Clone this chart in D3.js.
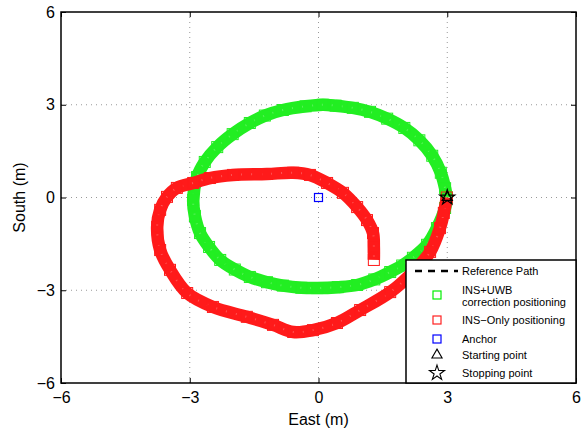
<!DOCTYPE html>
<html><head><meta charset="utf-8">
<script src="https://cdn.jsdelivr.net/npm/d3@7"></script>
<style>body{margin:0;background:#fff}svg{display:block}text{font-family:"Liberation Sans",Arial,sans-serif}</style>
</head><body><svg id="c" width="583" height="433"></svg>
<script>
const xTicks = [-6, -3, 0, 3, 6];
const yTicks = [-6, -3, 0, 3, 6];
const refX = [3, 2.6, 1.5, 0, -1.45, -2.45, -2.9, -2.6, -1.5, 0, 1.5, 2.6];
const refY = [0, 1.5, 2.6, 3, 2.5, 1.5, 0, -1.5, -2.6, -2.95, -2.6, -1.5];
const uwbX = [2.99, 2.95, 2.85, 2.65, 2.35, 2.0, 1.6, 1.2, 0.8, 0.4, 0.1, -0.3, -0.83, -1.25, -1.6, -2.0, -2.36, -2.65, -2.83, -2.92, -2.88, -2.76, -2.55, -2.29, -1.95, -1.6, -1.2, -0.83, -0.4, -0.03, 0.45, 0.9, 1.3, 1.67, 1.95, 2.2, 2.53, 2.76, 2.95, 2.99];
const uwbY = [0.0, 0.3, 0.8, 1.35, 1.85, 2.25, 2.55, 2.77, 2.9, 2.97, 3.0, 2.95, 2.83, 2.65, 2.41, 2.05, 1.63, 1.15, 0.66, -0.08, -0.6, -1.15, -1.6, -2.02, -2.33, -2.57, -2.74, -2.85, -2.92, -2.93, -2.9, -2.83, -2.65, -2.41, -2.2, -1.95, -1.53, -0.99, -0.34, 0.0];
const insX = [2.99, 2.92, 2.83, 2.6, 2.2, 1.67, 0.97, 0.43, -0.13, -0.59, -1.06, -1.67, -2.46, -3.06, -3.46, -3.69, -3.76, -3.69, -3.53, -3.3, -2.92, -2.53, -1.99, -1.2, -0.59, -0.2, 0.2, 0.57, 0.9, 1.13, 1.27, 1.29, 1.29];
const insY = [0.0, -0.5, -0.99, -1.76, -2.41, -3.06, -3.64, -4.06, -4.29, -4.35, -4.12, -3.86, -3.54, -3.09, -2.34, -1.7, -0.95, -0.4, 0.02, 0.31, 0.47, 0.63, 0.73, 0.76, 0.8, 0.73, 0.47, 0.15, -0.31, -0.73, -1.15, -1.6, -2.02];
const anchorX = [0], anchorY = [0];
const startPt = [3, 0], stopPt = [3, 0];
const legendLabels = ["Reference Path", "INS+UWB|correction positioning", "INS\u2212Only positioning", "Anchor", "Starting point", "Stopping point"];

const svg = d3.select("#c");
const x = d3.scaleLinear().domain([-6, 6]).range([61, 576]);
const y = d3.scaleLinear().domain([-6, 6]).range([383, 12]);
const fmt = d => d < 0 ? "\u2212" + Math.abs(d) : String(d);

// grid
const g = svg.append("g");
[-3, 0, 3].forEach(v => {
  g.append("line").attr("x1", x(v)).attr("x2", x(v)).attr("y1", y(-6)).attr("y2", y(6))
    .attr("stroke", "#999").attr("stroke-width", 1).attr("stroke-dasharray", "1,4");
  g.append("line").attr("y1", y(v)).attr("y2", y(v)).attr("x1", x(-6)).attr("x2", x(6))
    .attr("stroke", "#999").attr("stroke-width", 1).attr("stroke-dasharray", "1,4");
});

// axes
const xa = svg.append("g").attr("transform", `translate(0,${y(-6)})`)
  .call(d3.axisBottom(x).tickValues(xTicks).tickFormat(fmt).tickSize(-5).tickPadding(9));
const ya = svg.append("g").attr("transform", `translate(${x(-6)},0)`)
  .call(d3.axisLeft(y).tickValues(yTicks).tickFormat(fmt).tickSize(-5).tickPadding(6));
[xa, ya].forEach(a => {
  a.select(".domain").remove();
  a.selectAll("text").attr("font-size", 16).attr("fill", "#000").attr("font-family", "Liberation Sans, Arial, sans-serif");
  a.selectAll("line").attr("stroke", "#000");
});
xa.selectAll("text").attr("dy", "0.71em");
svg.append("g").attr("transform", `translate(0,${y(6)})`)
  .call(d3.axisTop(x).tickValues(xTicks).tickFormat("").tickSize(-5)).call(a => { a.select(".domain").remove(); a.selectAll("line").attr("stroke", "#000"); });
svg.append("g").attr("transform", `translate(${x(6)},0)`)
  .call(d3.axisRight(y).tickValues(yTicks).tickFormat("").tickSize(-5)).call(a => { a.select(".domain").remove(); a.selectAll("line").attr("stroke", "#000"); });

const clip = svg.append("clipPath").attr("id", "pc").append("rect")
  .attr("x", x(-6)).attr("y", y(6)).attr("width", x(6) - x(-6)).attr("height", y(-6) - y(6));
const plot = svg.append("g").attr("clip-path", "url(#pc)");

// reference path
const ref = refX.map((v, i) => [v, refY[i]]);
plot.append("path").datum(ref)
  .attr("d", d3.line().x(d => x(d[0])).y(d => y(d[1])).curve(d3.curveCardinalClosed))
  .attr("fill", "none").attr("stroke", "#000").attr("stroke-width", 1.5).attr("stroke-dasharray", "7,5");

function band(xs, ys, color) {
  const pts = xs.map((v, i) => [v, ys[i]]);
  const line = d3.line().x(d => x(d[0])).y(d => y(d[1])).curve(d3.curveCatmullRom);
  plot.append("path").datum(pts).attr("d", line).attr("fill", "none")
    .attr("stroke", color).attr("stroke-width", 12.5).attr("stroke-linejoin", "round").attr("stroke-linecap", "butt");
  plot.append("path").datum(pts).attr("d", line).attr("fill", "none")
    .attr("stroke", "#fff").attr("stroke-opacity", 0.25).attr("stroke-width", 2).attr("stroke-dasharray", "1,9");
  plot.selectAll(null).data(pts).enter().append("rect")
    .attr("x", d => x(d[0]) - 5.5).attr("y", d => y(d[1]) - 5.5).attr("width", 11).attr("height", 11)
    .attr("fill", "none").attr("stroke", color).attr("stroke-width", 1);
}
band(uwbX, uwbY, "#22ee22");
band(insX, insY, "#ff1a1a");

// anchor
plot.selectAll(null).data(anchorX.map((v, i) => [v, anchorY[i]])).enter().append("rect")
  .attr("x", d => x(d[0]) - 4).attr("y", d => y(d[1]) - 4).attr("width", 8).attr("height", 8)
  .attr("fill", "none").attr("stroke", "#0000ff").attr("stroke-width", 1.2);

const tri = d3.symbol().type(d3.symbolTriangle).size(45);
const star = d3.symbol().type(d3.symbolStar).size(70);
plot.append("path").attr("d", tri()).attr("transform", `translate(${x(startPt[0])},${y(startPt[1])})`)
  .attr("fill", "none").attr("stroke", "#000").attr("stroke-width", 1.2);
plot.append("path").attr("d", star()).attr("transform", `translate(${x(stopPt[0])},${y(stopPt[1])})`)
  .attr("fill", "none").attr("stroke", "#000").attr("stroke-width", 1.2);

// frame
svg.append("rect").attr("x", x(-6)).attr("y", y(6)).attr("width", x(6) - x(-6)).attr("height", y(-6) - y(6))
  .attr("fill", "none").attr("stroke", "#000").attr("stroke-width", 1.5);

// legend
const lg = svg.append("g");
lg.append("rect").attr("x", 406).attr("y", 260).attr("width", 170).attr("height", 123)
  .attr("fill", "#fff").attr("stroke", "#000").attr("stroke-width", 1.5);
const lx = 437, tx = 462;
const rows = [271, 295, 320, 339, 355, 373];
lg.append("line").attr("x1", 415).attr("x2", 458).attr("y1", rows[0]).attr("y2", rows[0])
  .attr("stroke", "#000").attr("stroke-width", 2.5).attr("stroke-dasharray", "7,6");
[["#00ee00", rows[1]], ["#ff2020", rows[2]], ["#0000ff", rows[3]]].forEach(([c, yy]) => {
  lg.append("rect").attr("x", lx - 4).attr("y", yy - 4).attr("width", 8).attr("height", 8)
    .attr("fill", "none").attr("stroke", c).attr("stroke-width", 1.2);
});
lg.append("path").attr("d", tri()).attr("transform", `translate(${lx},${rows[4]})`)
  .attr("fill", "none").attr("stroke", "#000").attr("stroke-width", 1.1);
lg.append("path").attr("d", star()).attr("transform", `translate(${lx},${rows[5]})`)
  .attr("fill", "none").attr("stroke", "#000").attr("stroke-width", 1.1);
legendLabels.forEach((t, i) => {
  const parts = t.split("|");
  if (parts.length === 2) {
    lg.append("text").attr("x", tx).attr("y", 294).attr("font-size", 11).text(parts[0]);
    lg.append("text").attr("x", tx).attr("y", 306).attr("font-size", 11).text(parts[1]);
  } else {
    lg.append("text").attr("x", tx).attr("y", rows[i] + 4).attr("font-size", 11).text(t);
  }
});

// axis titles
svg.append("text").attr("x", x(0)).attr("y", 425).attr("text-anchor", "middle").attr("font-size", 16).text("East (m)");
svg.append("text").attr("transform", `translate(25,${y(0)}) rotate(-90)`).attr("text-anchor", "middle").attr("font-size", 16).text("South (m)");
</script></body></html>
